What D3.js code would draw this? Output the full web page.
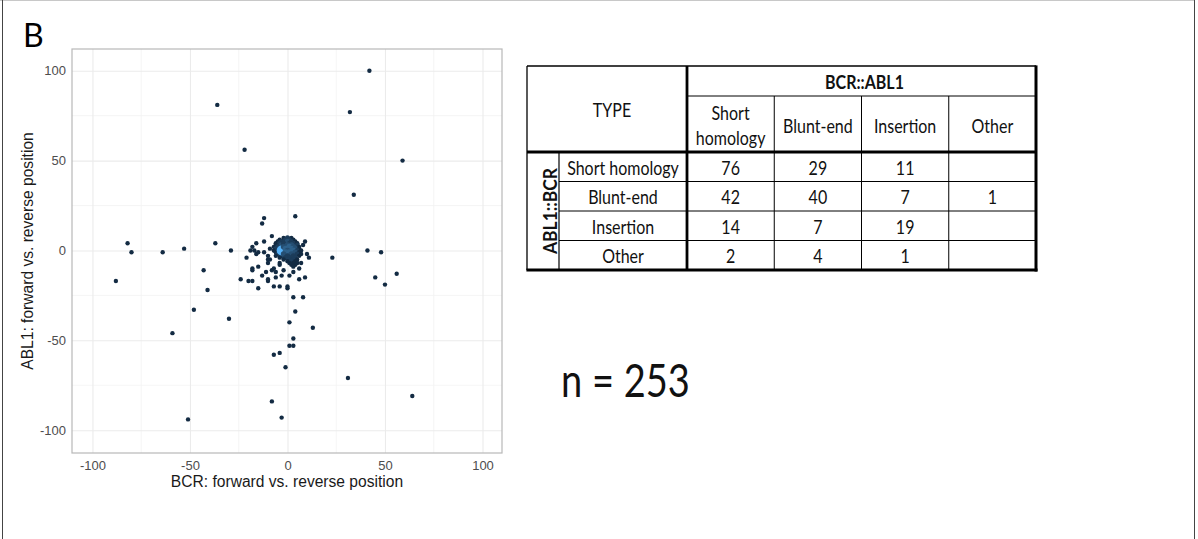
<!DOCTYPE html>
<html>
<head>
<meta charset="utf-8">
<script src="https://cdn.jsdelivr.net/npm/d3@7"></script>
<style>
  body { margin: 0; background: #fff; }
  svg { display: block; }
</style>
</head>
<body>
<div id="chart"></div>
<script>
// points far from the centre: [BCR, ABL1]
const outerPoints = [
    [42, 100], [-36, 81], [32, 77], [-22, 56], [59, 50], [34, 31], [4, 19], [-12, 18], [-13, 15],
    [-82, 4], [-80, -1], [-64, -1], [-53, 1], [-37, 4], [-29, 0], [41, 0], [48, -1], [23, -4],
    [-43, -11], [56, -13], [45, -15], [-88, -17], [50, -19], [-41, -22], [-48, -33], [-30, -38],
    [-59, -46], [1, -40], [3, -26], [8, -26], [4, -34], [13, -43], [3, -49], [1, -53], [3, -53],
    [-4, -57], [-7, -58], [-1, -65], [31, -71], [64, -81], [-8, -84], [-3, -93], [-51, -94],
];

// points around the cluster: [BCR, ABL1]
const nearPoints = [
    [-24, -16], [-20, -17], [-18, -17], [-15, -21], [-21, -4], [-18, -10], [-18, -11], [-15, -9],
    [-13, -14], [-11, -12], [-18, 2], [-17, 0], [-16, 4], [-16, -2], [-15, -1], [-12, 5],
    [-12, -1], [-10, -5], [-10, -17], [-10, -16], [-7, -20], [-4, -20], [0, -21], [0, -20],
    [6, -16], [9, -15], [-6, -15], [-3, -14], [1, -14], [3, -12], [-8, -11], [-6, -12],
    [-2, -11], [-8, 8], [9, 5], [8, 3], [10, -2], [11, -4], [7, -7], [6, -10],
    [-19, 0], [-9, 1], [-10, -3], [-9, -5], [-10, -7], [-4, -7], [-4, -8], [-7, -10],
];

// dense cluster: [BCR, ABL1, number of breakpoints at that spot], in drawing order
const clusterPoints = [
    [-4, 6, 1], [-5, 5, 1], [-3, 5, 2], [-6, 4, 1], [-4, 4, 2], [-6, 3, 1], [-3, 3, 3],
    [-7, 2, 1], [-5, 2, 2], [-6, 1, 2], [-4, 1, 3], [-7, 0, 1], [-5, 0, 2], [-6, -1, 1],
    [-4, -1, 2], [-5, -2, 2], [-6, -3, 1], [-3, -3, 2], [-4, -4, 1],
    [-3, 0, 20],
    [-2, 7, 1], [0, 7, 2], [2, 7, 1], [-1, 6, 2], [1, 6, 2], [3, 6, 1],
    [0, 5, 3], [2, 5, 2], [4, 5, 1], [-2, 4, 2], [1, 4, 2], [3, 4, 2], [5, 4, 1],
    [0, 3, 3], [2, 3, 3], [5, 3, 2], [-2, 2, 3], [1, 2, 4], [3, 2, 3], [6, 2, 1],
    [-1, 1, 4], [2, 1, 4], [4, 1, 3], [6, 1, 1], [0, 0, 3], [3, 0, 4], [5, 0, 2], [7, 0, 1],
    [-1, -1, 4], [1, -1, 4], [4, -1, 3], [6, -1, 1], [-2, -2, 3], [2, -2, 3], [5, -2, 2], [7, -2, 1],
    [0, -3, 2], [3, -3, 2], [6, -3, 1], [-1, -4, 2], [2, -4, 2], [4, -4, 2],
    [-2, -5, 1], [1, -5, 2], [3, -5, 2], [5, -5, 1], [0, -6, 1], [2, -6, 2], [4, -6, 1],
    [1, -7, 1], [3, -7, 1], [5, -7, 1], [2, -8, 1], [4, -8, 1], [3, -9, 1],
];

const majorTicks = [-100, -50, 0, 50, 100];
const minorTicks = [-75, -25, 25, 75];

const bcrTypes = ['Short homology', 'Blunt-end', 'Insertion', 'Other'];
const bcrTypeLines = [['Short', 'homology'], ['Blunt-end'], ['Insertion'], ['Other']];
const ablTypes = ['Short homology', 'Blunt-end', 'Insertion', 'Other'];
const typeCounts = [
    [76, 29, 11, null],
    [42, 40, 7, 1],
    [14, 7, 19, null],
    [2, 4, 1, null],
];
const totalN = 253;

const width = 1198;
const height = 539;

const svg = d3.select('#chart')
    .append('svg')
    .attr('width', width)
    .attr('height', height);

// frame round the whole figure
svg.append('line').attr('x1', 0).attr('x2', 1195).attr('y1', 0.5).attr('y2', 0.5).attr('stroke', '#c8c8c8');
svg.append('line').attr('x1', 2.5).attr('x2', 2.5).attr('y1', 0).attr('y2', height).attr('stroke', '#444');
svg.append('line').attr('x1', 1194.5).attr('x2', 1194.5).attr('y1', 0).attr('y2', height).attr('stroke', '#444');

svg.append('text')
    .attr('x', 23)
    .attr('y', 46.5)
    .attr('font-family', 'Lato, sans-serif')
    .attr('font-size', 32)
    .attr('fill', '#000')
    .text('B');

// ---------- scatter plot ----------
const panel = { left: 72, right: 502, top: 49, bottom: 453 };

const xScale = d3.scaleLinear().domain([-110.5, 110]).range([panel.left, panel.right]);
const yScale = d3.scaleLinear().domain([-112.7, 112.1]).range([panel.bottom, panel.top]);

const grid = svg.append('g').attr('class', 'gridlines');

grid.selectAll('line.vminor').data(minorTicks).join('line')
    .attr('x1', (d) => xScale(d)).attr('x2', (d) => xScale(d))
    .attr('y1', panel.top).attr('y2', panel.bottom)
    .attr('stroke', '#f3f3f3').attr('stroke-width', 0.8);
grid.selectAll('line.hminor').data(minorTicks).join('line')
    .attr('y1', (d) => yScale(d)).attr('y2', (d) => yScale(d))
    .attr('x1', panel.left).attr('x2', panel.right)
    .attr('stroke', '#f3f3f3').attr('stroke-width', 0.8);

svg.append('g')
    .attr('transform', `translate(0, ${panel.bottom})`)
    .call(d3.axisBottom(xScale).tickValues(majorTicks).tickFormat('').tickSize(panel.top - panel.bottom))
    .call((g) => g.select('.domain').remove())
    .call((g) => g.selectAll('line').attr('stroke', '#ebebeb').attr('stroke-width', 1.1));
svg.append('g')
    .attr('transform', `translate(${panel.left}, 0)`)
    .call(d3.axisLeft(yScale).tickValues(majorTicks).tickFormat('').tickSize(panel.left - panel.right))
    .call((g) => g.select('.domain').remove())
    .call((g) => g.selectAll('line').attr('stroke', '#ebebeb').attr('stroke-width', 1.1));

const points = [
    ...clusterPoints.map(([x, y, n]) => ({ x, y, n })),
    ...nearPoints.map(([x, y]) => ({ x, y, n: 1 })),
    ...outerPoints.map(([x, y]) => ({ x, y, n: 1 })),
];

const colour = d3.scaleLinear()
    .domain([1, 8])
    .range(['#132B43', '#56B1F7'])
    .interpolate(d3.interpolateLab)
    .clamp(true);
const rScale = d3.scaleSqrt().domain([1, 20]).range([2.2, 5]);

svg.append('g')
    .attr('class', 'dots')
    .selectAll('circle')
    .data(points)
    .join('circle')
    .attr('cx', (d) => xScale(d.x))
    .attr('cy', (d) => yScale(d.y))
    .attr('r', (d) => rScale(d.n))
    .attr('fill', (d) => colour(d.n));

svg.append('rect')
    .attr('x', panel.left).attr('y', panel.top)
    .attr('width', panel.right - panel.left).attr('height', panel.bottom - panel.top)
    .attr('fill', 'none').attr('stroke', '#b8b8b8').attr('stroke-width', 1.2);

const tickStyle = (g) => {
    g.select('.domain').remove();
    g.selectAll('text')
        .attr('fill', '#4d4d4d')
        .attr('font-size', 13)
        .attr('font-family', '"Liberation Sans", Arial, sans-serif');
};

svg.append('g')
    .attr('transform', `translate(0, ${panel.bottom})`)
    .call(d3.axisBottom(xScale).tickValues(majorTicks).tickFormat((d) => String(d)).tickSize(0).tickPadding(8))
    .call(tickStyle);

svg.append('g')
    .attr('transform', `translate(${panel.left}, 0)`)
    .call(d3.axisLeft(yScale).tickValues(majorTicks).tickFormat((d) => String(d)).tickSize(0).tickPadding(6))
    .call(tickStyle);

svg.append('text')
    .attr('x', (panel.left + panel.right) / 2)
    .attr('y', 487)
    .attr('text-anchor', 'middle')
    .attr('font-family', '"Liberation Sans", Arial, sans-serif')
    .attr('font-size', 15.6)
    .attr('fill', '#1a1a1a')
    .text('BCR: forward vs. reverse position');

svg.append('text')
    .attr('transform', `translate(33, ${(panel.top + panel.bottom) / 2}) rotate(-90)`)
    .attr('text-anchor', 'middle')
    .attr('font-family', '"Liberation Sans", Arial, sans-serif')
    .attr('font-size', 15.6)
    .attr('fill', '#1a1a1a')
    .text('ABL1: forward vs. reverse position');

// ---------- table ----------
const table = { left: 527, labelRight: 559, typeRight: 687, right: 1036, top: 66, mid: 96, head: 152, bottom: 270 };

const colX = d3.scaleBand().domain(bcrTypes).range([table.typeRight, table.right]);
const rowY = d3.scaleBand().domain(ablTypes).range([table.head, table.bottom]);

const tg = svg.append('g').attr('class', 'table');

function cellText(x, y, str, opts = {}) {
    const { size = 16, weight = 400, anchor = 'middle', sy = 1.2, rotate = 0 } = opts;
    tg.append('text')
        .attr('transform', `translate(${x}, ${y}) rotate(${rotate}) scale(1, ${sy})`)
        .attr('text-anchor', anchor)
        .attr('font-family', 'Lato, sans-serif')
        .attr('font-size', size)
        .attr('font-weight', weight)
        .attr('fill', '#111')
        .text(str);
}

function rule(x1, y1, x2, y2, w) {
    tg.append('line')
        .attr('x1', x1).attr('y1', y1).attr('x2', x2).attr('y2', y2)
        .attr('stroke', '#000').attr('stroke-width', w);
}

// thin inner lines
rule(table.typeRight, table.mid, table.right, table.mid, 1);
ablTypes.slice(1).forEach((r) => rule(table.labelRight, rowY(r), table.right, rowY(r), 1));
bcrTypes.slice(1).forEach((c) => rule(colX(c), table.mid, colX(c), table.bottom, 1));
rule(table.labelRight, table.head, table.labelRight, table.bottom, 1.2);
// outer and heavy lines
rule(table.left, table.top, table.right, table.top, 1.3);
rule(table.left, table.top, table.left, table.bottom, 1.3);
rule(table.typeRight, table.top, table.typeRight, table.bottom, 2.8);
rule(table.left, table.head, table.right, table.head, 3);
rule(table.right, table.top - 0.6, table.right, table.bottom + 1.5, 3);
rule(table.left - 0.6, table.bottom, table.right + 1.5, table.bottom, 3);

cellText(612, 116.5, 'TYPE');
cellText((table.typeRight + table.right) / 2 + 3, 89, 'BCR::ABL1', { weight: 700 });

bcrTypes.forEach((c, i) => {
    const cx = colX(c) + colX.bandwidth() / 2;
    const lines = bcrTypeLines[i];
    if (lines.length === 2) {
        cellText(cx, 120, lines[0]);
        cellText(cx, 145, lines[1]);
    } else {
        cellText(cx, 133, lines[0]);
    }
});

cellText(557, (table.head + table.bottom) / 2, 'ABL1::BCR', { weight: 700, size: 17.5, rotate: -90, sy: 1.1 });

ablTypes.forEach((r, i) => {
    const y = rowY(r) + rowY.bandwidth() * 0.77;
    cellText((table.labelRight + table.typeRight) / 2, y, r);
    bcrTypes.forEach((c, j) => {
        const v = typeCounts[i][j];
        if (v !== null) cellText(colX(c) + colX.bandwidth() / 2, y, v);
    });
});

svg.append('text')
    .attr('transform', 'translate(561, 396.5) scale(1, 1.2)')
    .attr('font-family', 'Lato, sans-serif')
    .attr('font-size', 38)
    .attr('fill', '#111')
    .text(`n = ${totalN}`);
</script>
</body>
</html>
